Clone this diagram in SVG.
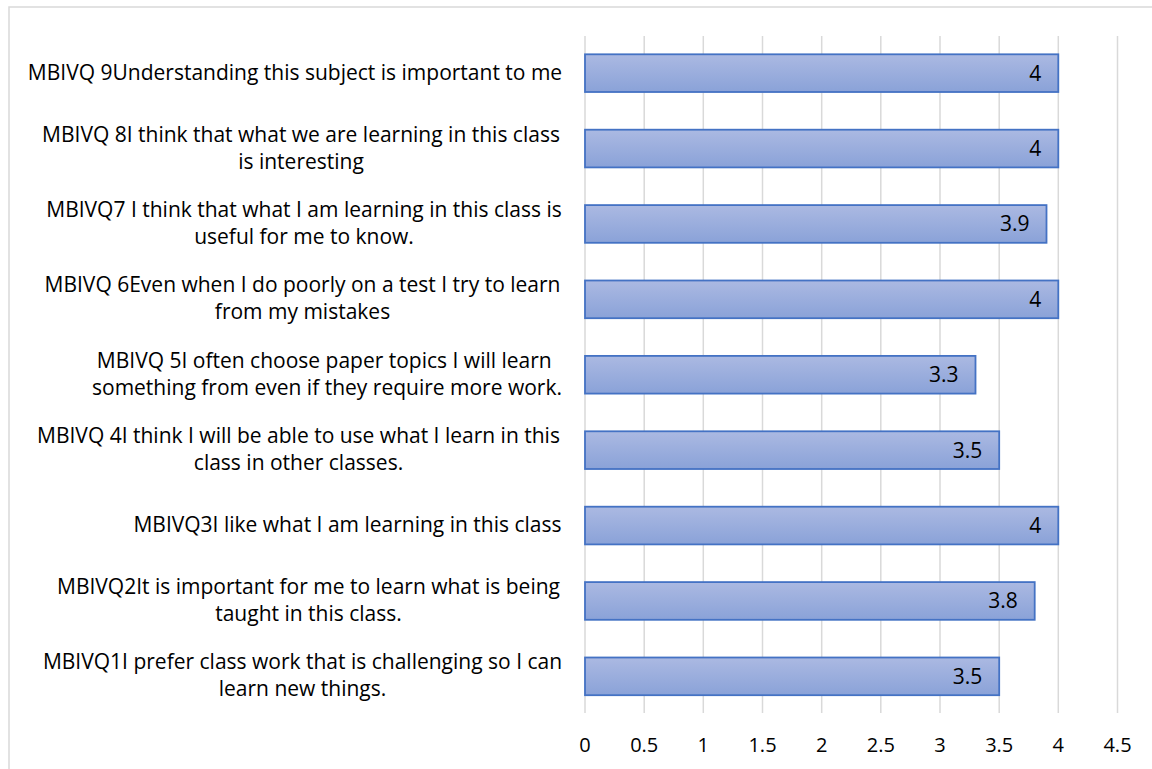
<svg xmlns="http://www.w3.org/2000/svg" width="1152" height="769" viewBox="0 0 1152 769">
<defs>
<linearGradient id="barg" x1="0" y1="0" x2="0" y2="1">
<stop offset="0" stop-color="#abb9e2"/>
<stop offset="1" stop-color="#8aa2d8"/>
</linearGradient>
<style>
.t{font-family:"Open Sans","Liberation Sans",sans-serif;font-size:21px;fill:#000}
.a{font-size:20px}
.c{text-anchor:middle}
.e{text-anchor:end}
.g{stroke:#d9d9d9;stroke-width:1.5}
.bar{fill:url(#barg);stroke:#4472c4;stroke-width:1.8}
</style>
</defs>
<rect x="0" y="0" width="1152" height="769" fill="#fff"/>
<rect x="9" y="7" width="1200" height="800" fill="none" stroke="#d9d9d9" stroke-width="1.5"/>
<g id="gridlines">
<line class="g" x1="585" y1="36" x2="585" y2="713"/>
<line class="g" x1="644.2" y1="36" x2="644.2" y2="713"/>
<line class="g" x1="703.3" y1="36" x2="703.3" y2="713"/>
<line class="g" x1="762.5" y1="36" x2="762.5" y2="713"/>
<line class="g" x1="821.7" y1="36" x2="821.7" y2="713"/>
<line class="g" x1="880.8" y1="36" x2="880.8" y2="713"/>
<line class="g" x1="940" y1="36" x2="940" y2="713"/>
<line class="g" x1="999.2" y1="36" x2="999.2" y2="713"/>
<line class="g" x1="1058.3" y1="36" x2="1058.3" y2="713"/>
<line class="g" x1="1117.5" y1="36" x2="1117.5" y2="713"/>
</g>
<g id="axis-labels" class="t a c">
<text x="585" y="752">0</text>
<text x="644.2" y="752">0.5</text>
<text x="703.3" y="752">1</text>
<text x="762.5" y="752">1.5</text>
<text x="821.7" y="752">2</text>
<text x="880.8" y="752">2.5</text>
<text x="940" y="752">3</text>
<text x="999.2" y="752">3.5</text>
<text x="1058.3" y="752">4</text>
<text x="1117.5" y="752">4.5</text>
</g>
<g id="q9">
<rect class="bar" x="585" y="54.3" width="473.3" height="37.7"/>
<text class="t e" x="1041.3" y="80.6">4</text>
<text class="t c" x="295" y="79.5">MBIVQ 9Understanding this subject is important to me</text>
</g>
<g id="q8">
<rect class="bar" x="585" y="129.7" width="473.3" height="37.7"/>
<text class="t e" x="1041.3" y="156">4</text>
<text class="t c" x="301" y="141.5">MBIVQ 8I think that what we are learning in this class</text>
<text class="t c" x="301" y="168.5">is interesting</text>
</g>
<g id="q7">
<rect class="bar" x="585" y="205.1" width="461.5" height="37.7"/>
<text class="t e" x="1029.5" y="231.4">3.9</text>
<text class="t c" x="304" y="216.9">MBIVQ7 I think that what I am learning in this class is</text>
<text class="t c" x="304" y="243.9">useful for me to know.</text>
</g>
<g id="q6">
<rect class="bar" x="585" y="280.5" width="473.3" height="37.7"/>
<text class="t e" x="1041.3" y="306.8">4</text>
<text class="t c" x="302.5" y="292.3">MBIVQ 6Even when I do poorly on a test I try to learn</text>
<text class="t c" x="302.5" y="319.3">from my mistakes</text>
</g>
<g id="q5">
<rect class="bar" x="585" y="355.9" width="390.5" height="37.7"/>
<text class="t e" x="958.5" y="382.2">3.3</text>
<text class="t c" x="327" y="367.7" xml:space="preserve">MBIVQ 5I often choose paper topics I will learn </text>
<text class="t c" x="327" y="394.7">something from even if they require more work.</text>
</g>
<g id="q4">
<rect class="bar" x="585" y="431.3" width="414.2" height="37.7"/>
<text class="t e" x="982.2" y="457.6">3.5</text>
<text class="t c" x="298.5" y="443.1">MBIVQ 4I think I will be able to use what I learn in this</text>
<text class="t c" x="298.5" y="470.1">class in other classes.</text>
</g>
<g id="q3">
<rect class="bar" x="585" y="506.7" width="473.3" height="37.7"/>
<text class="t e" x="1041.3" y="533">4</text>
<text class="t c" x="347.5" y="532.1">MBIVQ3I like what I am learning in this class</text>
</g>
<g id="q2">
<rect class="bar" x="585" y="582.1" width="449.7" height="37.7"/>
<text class="t e" x="1017.7" y="608.4">3.8</text>
<text class="t c" x="308.5" y="593.9">MBIVQ2It is important for me to learn what is being</text>
<text class="t c" x="308.5" y="620.9">taught in this class.</text>
</g>
<g id="q1">
<rect class="bar" x="585" y="657.5" width="414.2" height="37.7"/>
<text class="t e" x="982.2" y="683.8">3.5</text>
<text class="t c" x="302.5" y="669.3">MBIVQ1I prefer class work that is challenging so I can</text>
<text class="t c" x="302.5" y="696.3">learn new things.</text>
</g>
</svg>
